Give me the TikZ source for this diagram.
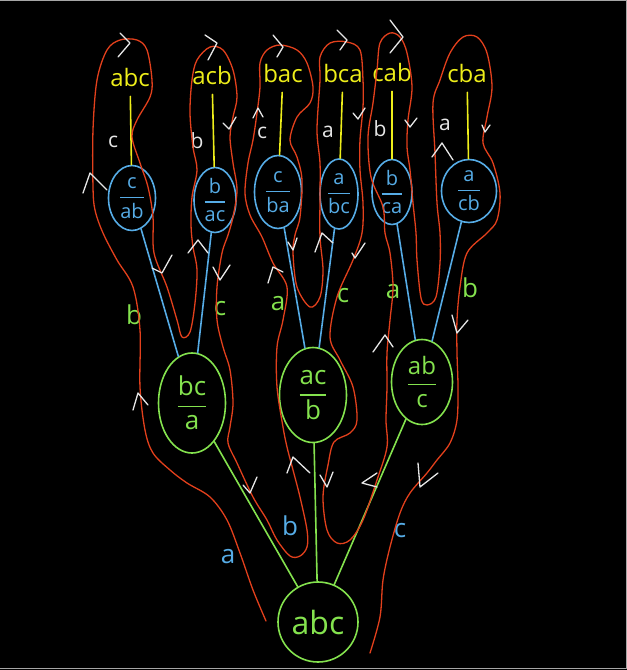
\documentclass[tikz,border=0pt]{standalone}
\usepackage{amsmath}
\usepackage{fontspec}
\setmainfont{Open Sans}
\usetikzlibrary{shapes.geometric}
\definecolor{cred}{HTML}{E2401C}
\definecolor{cblue}{HTML}{56ACE6}
\definecolor{cgreen}{HTML}{84E24E}
\definecolor{cyellow}{HTML}{EEEE1A}
\definecolor{cwhite}{HTML}{E6E6E6}
\newcommand{\permfrac}[2]{$\genfrac{}{}{1.5pt}{0}{\mbox{#1}}{\mbox{#2}}$}
\tikzset{
  every picture/.style={x=1pt, y=-1pt, line width=1.6pt, line cap=round, line join=round},
  level/.style={draw=#1, ellipse, inner sep=0pt, text=#1},
  leaf/.style={text=cyellow, font=\fontsize{24}{28}\selectfont},
  lbl/.style={text=#1, font=\fontsize{26}{30}\selectfont},
  wlbl/.style={text=cwhite, font=\fontsize{21}{24}\selectfont},
  tour/.style={draw=cred, line width=1.3pt},
  tick/.style={draw=cwhite, line width=1.3pt},
}
\begin{document}
\begin{tikzpicture}
  \fill[black] (0,0) rectangle (627,670);
  \useasboundingbox (0,0) rectangle (627,670);
  \draw[gray!70, line width=1pt] (0,0.5) -- (626,0.5) -- (626,668) -- (0,668);

  \node[level=cgreen, minimum width=80pt, minimum height=80pt, font=\fontsize{32}{36}\selectfont] (root) at (318,622) {abc};
  \node[level=cgreen, minimum width=67pt, minimum height=100pt, font=\fontsize{26}{30}\selectfont] (pa) at (192,403) {\permfrac{bc}{a}};
  \node[level=cgreen, minimum width=67pt, minimum height=95pt, font=\fontsize{26}{30}\selectfont] (pb) at (313,395) {\permfrac{ac}{b}};
  \node[level=cgreen, minimum width=61pt, minimum height=85pt, font=\fontsize{24}{28}\selectfont] (pc) at (422,382) {\permfrac{ab}{c}};

  \node[level=cblue, minimum width=47pt, minimum height=65pt, font=\fontsize{20}{23}\selectfont] (pab) at (132,198) {\permfrac{c}{ab}};
  \node[level=cblue, minimum width=42pt, minimum height=65pt, font=\fontsize{20}{23}\selectfont] (pac) at (215,200) {\permfrac{b}{ac}};
  \node[level=cblue, minimum width=47pt, minimum height=73pt, font=\fontsize{20}{23}\selectfont] (pba) at (278,192) {\permfrac{c}{ba}};
  \node[level=cblue, minimum width=38pt, minimum height=70pt, font=\fontsize{20}{23}\selectfont] (pbc) at (339,194) {\permfrac{a}{bc}};
  \node[level=cblue, minimum width=40pt, minimum height=65pt, font=\fontsize{20}{23}\selectfont] (pca) at (392,192) {\permfrac{b}{ca}};
  \node[level=cblue, minimum width=55pt, minimum height=63pt, font=\fontsize{20}{23}\selectfont] (pcb) at (469,191) {\permfrac{a}{cb}};

  \node[leaf] (labc) at (130,77) {abc};
  \node[leaf] (lacb) at (212,75) {acb};
  \node[leaf] (lbac) at (283,73) {bac};
  \node[leaf] (lbca) at (343,73) {bca};
  \node[leaf] (lcab) at (392,72) {cab};
  \node[leaf] (lcba) at (467,73) {cba};

  \draw[cgreen] (root) -- (pa);
  \draw[cgreen] (root) -- (pb);
  \draw[cgreen] (root) -- (pc);
  \draw[cblue] (pa) -- (pab);
  \draw[cblue] (pa) -- (pac);
  \draw[cblue] (pb) -- (pba);
  \draw[cblue] (pb) -- (pbc);
  \draw[cblue] (pc) -- (pca);
  \draw[cblue] (pc) -- (pcb);
  \draw[cyellow, shorten <=6pt] (labc) -- (pab);
  \draw[cyellow, shorten <=6pt] (lacb) -- (pac);
  \draw[cyellow, shorten <=6pt] (lbac) -- (pba);
  \draw[cyellow, shorten <=6pt] (lbca) -- (pbc);
  \draw[cyellow, shorten <=6pt] (lcab) -- (pca);
  \draw[cyellow, shorten <=6pt] (lcba) -- (pcb);

  \node[lbl=cblue] (ea) at (228,557) {a};
  \node[lbl=cblue] (eb) at (290,526) {b};
  \node[lbl=cblue] (ec) at (400,531) {c};
  \node[lbl=cgreen] (eab) at (134,315) {b};
  \node[lbl=cgreen] (eac) at (220,309) {c};
  \node[lbl=cgreen] (eba) at (278,304) {a};
  \node[lbl=cgreen] (ebc) at (343,296) {c};
  \node[lbl=cgreen] (eca) at (393,292) {a};
  \node[lbl=cgreen] (ecb) at (470,288) {b};
  \node[wlbl] (eabc) at (113,142) {c};
  \node[wlbl] (eacb) at (197,141) {b};
  \node[wlbl] (ebac) at (262,133) {c};
  \node[wlbl] (ebca) at (328,132) {a};
  \node[wlbl] (ecab) at (380,129) {b};
  \node[wlbl] (ecba) at (445,125) {a};

  \draw[tour] plot[smooth, tension=0.55] coordinates {
    (266,621) (253,590) (240,553) (227,520) (210,497) (187,483) (170,470) (153,453)
    (145,430) (140,387) (140,330) (133,287) (117,260) (103,233) (95,210) (93,187)
    (93,130) (97,80) (107,50) (120,40) (137,40) (147,50) (152,80) (150,97) (137,120)
    (132,137) (140,163) (148,187) (153,217) (154,253) (167,287) (177,320) (182,337)
    (190,332) (195,303) (197,270) (193,247) (191,225) (192,197) (197,170) (193,147)
    (190,113) (192,80) (197,60) (210,47) (223,50) (233,70) (237,97) (233,117) (230,137)
    (233,163) (237,190) (233,217) (228,235) (222,253) (217,287) (217,320) (223,347)
    (230,370) (233,403) (230,427) (228,443) (237,463) (253,497) (267,520) (277,540)
    (290,556) (300,556) (307,547) (307,530) (300,497) (293,470) (287,447) (283,427)
    (277,387) (277,347) (283,320) (287,287) (273,263) (262,237) (250,215) (245,193)
    (248,163) (253,140) (257,113) (260,87) (260,63) (267,50) (280,45) (297,50)
    (307,63) (313,87) (310,103) (297,117) (290,140) (297,157) (302,180) (300,217)
    (295,235) (293,253) (297,287) (310,307) (320,297) (323,270) (320,237) (320,197)
    (320,163) (317,130) (320,80) (320,57) (330,43) (347,42) (360,50) (363,80)
    (363,107) (360,140) (360,170) (363,203) (362,233) (353,260) (337,297) (330,337)
    (340,360) (353,387) (357,420) (350,433) (334,442) (328,465) (323,497) (327,530)
    (337,543) (350,540) (363,520) (377,480) (387,447) (386,420) (387,387) (387,353)
    (390,320) (393,287) (390,253) (385,233) (383,207) (371,177) (368,137) (373,103)
    (377,70) (380,43) (390,33) (400,37) (407,53) (412,87) (408,120) (407,147)
    (410,170) (413,203) (416,233) (417,260) (421,298) (427,305) (436,297) (440,263)
    (440,233) (437,203) (435,153) (433,103) (440,80) (450,53) (463,37) (477,37)
    (487,53) (492,87) (487,117) (483,143) (493,163) (500,193) (497,220) (487,233)
    (467,253) (460,287) (457,320) (457,353) (458,387) (457,420) (450,443) (437,460)
    (427,473) (410,493) (400,513) (390,547) (383,580) (380,617) (370,653)};

  \draw[tick] (120,33) -- (130,43) -- (118,57)
    (205,35) -- (217,43) -- (208,60)
    (273,35) -- (283,47) -- (277,57)
    (337,30) -- (347,40) -- (340,50)
    (390,20) -- (403,37) -- (390,53)
    (83,193) -- (90,173) -- (107,190)
    (223,123) -- (229,129) -- (236,117)
    (253,118) -- (258,108) -- (263,117)
    (353,113) -- (358,119) -- (365,108)
    (405,120) -- (410,127) -- (417,118)
    (432,157) -- (442,143) -- (453,160)
    (482,125) -- (485,132) -- (490,125)
    (152,268) -- (162,273) -- (172,255)
    (188,253) -- (198,240) -- (208,253)
    (213,267) -- (220,280) -- (230,265)
    (133,410) -- (138,393) -- (148,405)
    (268,283) -- (273,267) -- (283,272)
    (288,242) -- (293,250) -- (297,238)
    (315,252) -- (322,233) -- (333,243)
    (352,253) -- (355,258) -- (365,243)
    (373,352) -- (385,335) -- (393,347)
    (452,315) -- (457,333) -- (468,320)
    (243,485) -- (250,493) -- (257,477)
    (287,473) -- (293,457) -- (310,473)
    (320,475) -- (327,487) -- (333,472)
    (377,473) -- (362,483) -- (377,487)
    (418,463) -- (420,487) -- (438,473);
\end{tikzpicture}
\end{document}
